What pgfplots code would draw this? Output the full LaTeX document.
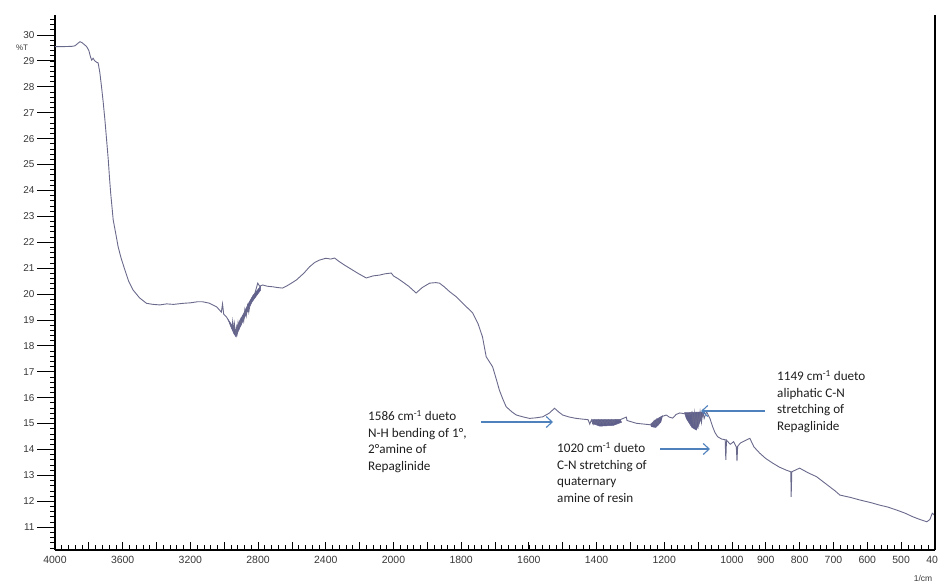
\documentclass[border=0pt]{standalone}
\usepackage{fontspec}
\setmainfont{Liberation Sans}
\newfontfamily\calibri{Carlito}
\usepackage{pgfplots}
\pgfplotsset{compat=1.18}
\usetikzlibrary{arrows.meta}
\definecolor{spec}{RGB}{105,105,140}
\definecolor{blob}{RGB}{95,95,140}
\definecolor{note}{RGB}{79,129,189}
\definecolor{ticktext}{RGB}{55,55,55}

% IR spectrum: wavenumber (1/cm) vs transmittance (%T)
\pgfplotstableread{
w T
4000 29.55
3950 29.55
3900 29.56
3882 29.58
3860 29.70
3852 29.74
3840 29.70
3825 29.62
3813 29.55
3800 29.40
3790 29.15
3783 29.03
3775 29.10
3765 29.00
3755 28.95
3745 28.92
3735 28.55
3725 28.00
3715 27.40
3705 26.72
3695 25.95
3685 25.17
3678 24.50
3671 23.90
3663 23.35
3656 22.86
3640 22.30
3627 21.83
3610 21.40
3587 20.93
3565 20.50
3538 20.15
3500 19.85
3459 19.64
3420 19.60
3380 19.58
3340 19.62
3300 19.60
3245 19.64
3200 19.66
3160 19.70
3127 19.70
3090 19.65
3046 19.51
3030 19.40
3017 19.30
3010 19.62
3003 19.22
2985 19.10
2967 18.88
2955 18.70
2950 18.95
2945 18.60
2940 18.85
2935 18.45
2932 18.42
2928 18.70
2924 18.50
2918 18.90
2912 18.70
2905 19.00
2900 18.85
2891 19.12
2885 18.95
2878 19.40
2870 19.15
2862 19.55
2855 19.30
2845 19.70
2832 19.77
2820 20.00
2802 20.42
2790 20.30
2773 20.35
2745 20.30
2714 20.28
2685 20.25
2655 20.23
2620 20.35
2574 20.54
2530 20.80
2496 21.05
2465 21.22
2437 21.31
2400 21.38
2370 21.35
2348 21.39
2320 21.25
2290 21.12
2260 21.00
2210 20.80
2161 20.62
2120 20.70
2083 20.73
2050 20.78
2013 20.81
2000 20.70
1985 20.58
1973 20.47
1955 20.30
1933 20.04
1915 20.25
1893 20.42
1875 20.44
1864 20.42
1850 20.28
1834 20.09
1815 19.90
1796 19.65
1780 19.45
1766 19.27
1750 18.85
1737 18.35
1726 17.58
1707 17.19
1697 16.75
1687 16.29
1677 15.95
1667 15.65
1650 15.45
1637 15.33
1615 15.25
1598 15.20
1580 15.22
1559 15.26
1540 15.40
1524 15.59
1512 15.45
1500 15.33
1480 15.25
1460 15.20
1440 15.17
1425 15.15
1420 14.98
1415 15.14
1410 14.97
1405 15.13
1400 14.98
1395 15.14
1390 14.99
1385 15.13
1380 14.98
1375 15.14
1370 14.99
1365 15.13
1360 15.00
1355 15.14
1350 15.02
1345 15.15
1332 15.14
1312 15.25
1310 15.12
1300 15.08
1282 15.01
1260 14.98
1245 14.96
1234 14.94
1230 15.10
1226 14.92
1222 15.15
1218 14.98
1213 15.21
1205 15.28
1194 15.33
1185 15.25
1175 15.21
1165 15.35
1154 15.41
1140 15.38
1125 15.33
1118 15.45
1114 15.00
1110 15.42
1106 14.85
1102 15.44
1098 14.95
1094 15.45
1090 15.05
1086 15.46
1082 15.20
1075 15.46
1065 15.20
1057 14.88
1050 14.65
1042 14.49
1030 14.40
1020 14.38
1018 13.60
1016 14.36
1005 14.20
995 14.30
987 14.10
985 13.55
983 14.12
975 14.25
960 14.35
947 14.43
935 14.10
918 13.86
900 13.65
879 13.47
860 13.32
839 13.20
826 13.14
825 12.17
823 13.14
800 13.28
775 13.10
750 12.95
730 12.75
711 12.56
695 12.40
681 12.24
650 12.15
622 12.05
590 11.95
563 11.85
540 11.78
513 11.66
490 11.55
465 11.40
445 11.30
424 11.21
415 11.30
408 11.54
400 11.45
}\spectrum

% dense noise bands, drawn as filled outlines
\pgfplotstableread{
w T
2975 19.00
2950 18.75
2932 18.62
2910 18.95
2885 19.25
2860 19.60
2830 19.95
2785 20.30
2785 20.15
2835 19.70
2865 19.30
2890 18.95
2915 18.60
2930 18.34
2945 18.50
2965 18.80
}\bandA
\pgfplotstableread{
w T
1412 15.15
1330 15.15
1326 15.05
1350 14.93
1390 14.90
1412 15.00
}\bandB
\pgfplotstableread{
w T
1240 14.98
1225 15.15
1205 15.30
1210 15.05
1225 14.85
1238 14.88
}\bandC
\pgfplotstableread{
w T
1140 15.42
1080 15.45
1090 15.20
1105 14.75
1118 14.85
1135 15.20
}\bandD

\begin{document}
\begin{tikzpicture}
\useasboundingbox (-55bp,-35bp) rectangle (883bp,550bp);
% the scale is halved above 2000 1/cm: u = 1000 + w/2 there
\begin{axis}[
  at={(0,0)}, anchor=south west,
  scale only axis, width=880bp, height=535bp,
  xmin=400, xmax=3000, x dir=reverse,
  ymin=10.12, ymax=30.77,
  axis lines*=left,
  axis line style={line width=1.2bp, black},
  x filter/.expression={x>=2000 ? 1000+0.5*x : x},
  xtick={400,500,...,3000},
  xticklabels={400,500,600,700,800,900,1000,,1200,,1400,,1600,,1800,,2000,,2400,,2800,,3200,,3600,,4000},
  xtick align=inside,
  ytick={11,12,...,30},
  ytick align=outside,
  major tick length=8bp,
  tick style={black, line width=0.8bp},
  /pgf/number format/assume math mode=true,
  ticklabel style={font=\fontsize{10}{12}\selectfont, text=ticktext},
  xticklabel style={font=\fontsize{10.5}{12}\selectfont, yshift=-3bp},
  yticklabel style={xshift=-9bp},
  clip=false,
]
\addplot[blob, fill=blob, line width=0.5bp] table[x=w, y=T] {\bandA} -- cycle;
\addplot[blob, fill=blob, line width=0.5bp] table[x=w, y=T] {\bandB} -- cycle;
\addplot[blob, fill=blob, line width=0.5bp] table[x=w, y=T] {\bandC} -- cycle;
\addplot[blob, fill=blob, line width=0.5bp] table[x=w, y=T] {\bandD} -- cycle;
\addplot[spec, line width=0.9bp] table[x=w, y=T] {\spectrum};
\draw[line width=1.2bp, black] (rel axis cs:1,0) -- (rel axis cs:1,1);
\end{axis}

% fine graduation: every 20 units along the bottom (6.769bp), every 0.2 %T on the left (5.182bp)
\foreach \i in {1,...,129}
  \draw[black, line width=0.7bp] ({\i*6.76923bp},0bp) -- ++(0bp,4.5bp);
\foreach \i in {0,...,102}
  \draw[black, line width=0.7bp] (0bp,{2.0726bp+\i*5.1816bp}) -- ++(-4.5bp,0bp);
% long ticks at whole %T values
\foreach \i in {0,...,19}
  \draw[black, line width=0.8bp] (0bp,{22.799bp+\i*25.908bp}) -- ++(-18bp,0bp);

\node[font=\fontsize{8}{9}\selectfont, text=ticktext] at (-33bp,502bp) {\%T};
\node[font=\fontsize{8.5}{10}\selectfont, text=ticktext] at (868bp,-28bp) {1/cm};

% band assignments
\begin{scope}[note, line width=1.1bp, -{Straight Barb[length=6bp,width=11bp]}]
\draw (426bp,128bp) -- (498bp,128bp);
\draw (605bp,101bp) -- (655bp,101bp);
\draw (710bp,139bp) -- (646bp,139bp);
\end{scope}
\begin{scope}[every node/.style={anchor=north west, inner sep=0pt, align=left,
  font=\calibri\fontsize{13.2}{16.7}\selectfont, text={rgb,255:red,30;green,30;blue,30}}]
\node at (313bp,140bp) {1586 cm\textsuperscript{-1} dueto\\N-H bending of 1°,\\2°amine of\\Repaglinide};
\node at (502bp,108bp) {1020 cm\textsuperscript{-1} dueto\\C-N stretching of\\quaternary\\amine of resin};
\node at (722bp,180bp) {1149 cm\textsuperscript{-1} dueto\\aliphatic C-N\\stretching of\\Repaglinide};
\end{scope}
\end{tikzpicture}
\end{document}
